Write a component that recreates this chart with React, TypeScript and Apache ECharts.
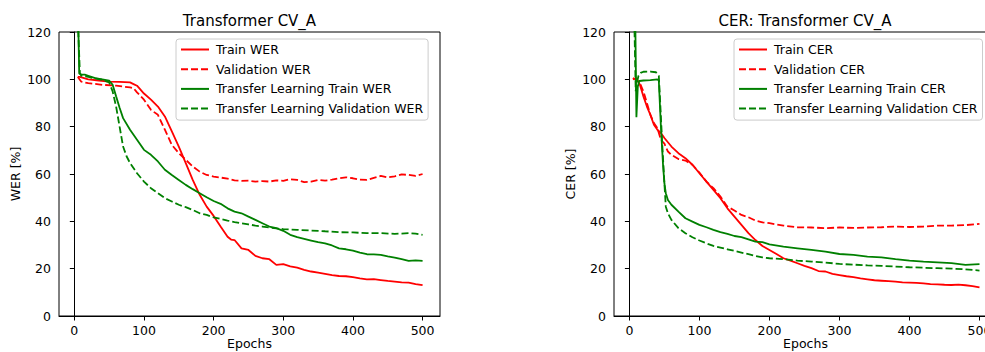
import React, { useEffect, useRef } from "react";
import * as echarts from "echarts";

// [epoch, value %]
const trainWER: [number, number][] = [[5,101],[8,101],[20,100],[35,99.5],[50,99],[65,98.9],[80,98.7],[85,98],[90,97.3],[100,94],[110,91.4],[120,88.5],[130,84.3],[140,78],[150,71.6],[160,64.6],[170,57.5],[180,51.2],[190,46.2],[200,42.3],[210,37.8],[220,33.5],[225,32.3],[230,32.1],[240,28.6],[250,27.9],[260,25.4],[270,24.4],[280,24],[290,21.6],[300,21.9],[310,21],[320,20.4],[330,19.5],[340,18.8],[350,18.3],[360,17.8],[370,17.3],[380,16.9],[390,16.8],[400,16.4],[410,15.9],[420,15.5],[430,15.6],[440,15.2],[450,14.8],[460,14.5],[470,14.2],[480,14.1],[490,13.5],[500,13.0]];
const valWER: [number, number][] = [[5,101],[10,99],[20,98.4],[40,97.7],[60,97.3],[80,96.6],[85,96.3],[90,94.5],[100,91.4],[110,87.1],[120,85],[130,78.7],[140,72.3],[150,68.8],[160,66],[170,63.2],[180,61],[190,59.6],[200,58.9],[210,58.5],[220,58],[230,57.3],[240,57.1],[250,57.2],[260,56.8],[270,57],[280,56.8],[290,57.3],[300,57.1],[310,57.8],[320,57.5],[330,56.6],[340,56.8],[350,57.5],[360,57.2],[370,57.6],[380,58.2],[390,58.6],[400,58.2],[410,57.6],[420,57.5],[430,58.4],[440,59.2],[450,58.6],[460,59],[470,59.8],[480,59.6],[490,59.2],[500,60]];
const tlTrainWER: [number, number][] = [[5,135],[7,102.5],[10,102],[15,102],[20,101.5],[30,100.5],[40,100],[50,99.5],[55,97.7],[60,92.8],[65,88],[70,83.6],[80,78.7],[90,74.5],[100,70.2],[110,68.1],[120,65.3],[130,61.8],[140,59.6],[150,57.5],[160,55.4],[170,53.6],[180,51.9],[190,50.2],[200,48.6],[210,47.4],[220,45.5],[230,44.1],[240,43.4],[250,42],[260,40.6],[270,39.2],[280,37.8],[290,37.1],[300,36],[310,34.3],[320,33.3],[330,32.6],[340,31.9],[350,31.2],[360,30.7],[370,29.8],[380,28.6],[390,28.2],[400,27.6],[410,26.8],[420,26.1],[430,26],[440,25.8],[450,25.2],[460,24.7],[470,24],[480,23.3],[490,23.5],[500,23.3]];
const tlValWER: [number, number][] = [[5,125],[8,102.6],[10,101.5],[20,101],[40,99.8],[50,98.7],[55,94.9],[60,88.5],[65,80],[70,71.6],[75,67.5],[80,64.6],[90,60.3],[100,56.8],[110,54],[120,51.9],[130,49.8],[140,48.4],[150,47],[160,46],[170,44.8],[180,43.4],[190,42.7],[200,41.7],[210,41],[220,40.3],[230,39.7],[240,39.2],[250,38.7],[260,38.2],[270,37.8],[280,37.4],[290,37],[300,36.7],[320,36.4],[340,36.1],[360,35.8],[380,35.4],[400,35.3],[420,35],[440,35],[460,34.7],[480,35],[490,34.8],[500,34.3]];

const trainCER: [number, number][] = [[5,100],[10,100.5],[15,97.7],[20,92.8],[25,88.5],[30,85],[35,80.8],[40,78.7],[45,77.3],[50,75.2],[60,71.6],[70,68.8],[80,66.7],[90,63.9],[100,60.3],[110,56.8],[120,53.3],[130,49.8],[140,45.5],[150,42],[160,38.5],[170,35],[180,32.1],[190,29.6],[200,27.9],[210,26.2],[220,24.4],[230,23.4],[240,22.3],[250,21.2],[260,20.2],[270,19],[280,18.8],[290,17.8],[300,17.3],[310,16.8],[320,16.4],[330,15.9],[340,15.5],[350,15.1],[360,14.9],[370,14.7],[380,14.5],[390,14.2],[400,14.1],[410,14],[420,13.8],[430,13.5],[440,13.4],[450,13.2],[460,13.1],[470,13.3],[480,13],[490,12.6],[500,12.1]];
const valCER: [number, number][] = [[5,100.5],[10,99.8],[15,98.4],[20,94.9],[25,90],[30,85],[35,81.5],[40,79.4],[45,74.4],[50,72.8],[55,69.5],[60,68.1],[70,66.3],[80,65.7],[90,63.9],[100,60.6],[110,56.8],[120,54],[130,50.5],[140,46.2],[150,44.6],[160,42.7],[170,41.7],[180,40.3],[190,39.6],[200,39.2],[220,38.2],[240,37.5],[260,37.4],[280,37.1],[300,37.4],[320,37.2],[340,37.4],[360,37.5],[380,37.8],[400,37.6],[420,37.8],[440,38.2],[460,38.2],[480,38.4],[500,38.9]];
const tlTrainCER: [number, number][] = [[8,135],[10,84],[12,97],[14,99.3],[20,99.5],[30,99.7],[40,100],[42,99.5],[45,80],[48,64],[50,56],[52,51.9],[55,49],[60,47],[70,44.1],[80,41.3],[90,39.9],[100,38.5],[110,37.5],[120,36.4],[130,35.4],[140,34.7],[150,33.8],[160,33.3],[170,32.4],[180,31.4],[190,31.2],[200,30.3],[220,29.3],[240,28.6],[260,27.9],[280,27.2],[300,26.2],[320,25.8],[340,25.1],[360,24.8],[380,24],[400,23.4],[420,23],[440,22.7],[460,22.3],[480,21.6],[500,21.9]];
const tlValCER: [number, number][] = [[7,125],[9,95],[11,99],[13,101.5],[16,102.7],[20,103.2],[30,103.3],[38,103],[42,101.5],[44,90],[47,72],[50,56],[52,46.2],[55,43.4],[60,40.6],[70,37.1],[80,35],[90,33.3],[100,31.9],[110,30.7],[120,29.6],[130,28.9],[140,28.2],[150,27.5],[160,26.8],[170,26.1],[180,25.4],[190,24.8],[200,24.4],[220,24],[240,23.4],[260,23],[280,22.6],[300,22],[320,21.7],[340,21.4],[360,21.2],[380,20.9],[400,20.6],[420,20.4],[440,20.2],[460,20],[480,19.7],[500,19.2]];

const xTicks = [0, 100, 200, 300, 400, 500];
const werNames = ["Train WER", "Validation WER", "Transfer Learning Train WER", "Transfer Learning Validation WER"];
const cerNames = ["Train CER", "Validation CER", "Transfer Learning Train CER", "Transfer Learning Validation CER"];
const titles = ["Transformer CV_A", "CER: Transformer CV_A"];
const yNames = ["WER [%]", "CER [%]"];

const FONT = "DejaVu Sans";
const FS = 12.5;
const RED = "#ff0000";
const GREEN = "#008000";

export default function App() {
  const ref = useRef<HTMLDivElement>(null);
  useEffect(() => {
    if (!ref.current) return;
    const chart = echarts.init(ref.current, null, { renderer: "svg" });
    const grids = [
      { left: 59, top: 32, width: 381, height: 284 },
      { left: 614, top: 32, width: 383, height: 284 },
    ];
    const mkX = (i: number) => ({
      type: "value",
      gridIndex: i,
      min: -22,
      max: 525,
      name: "Epochs",
      nameLocation: "middle",
      nameGap: 21,
      nameMoveOverlap: false,
      nameTextStyle: { fontFamily: FONT, fontSize: FS, color: "#000" },
      axisLine: { show: true, lineStyle: { color: "#000", width: 1 } },
      axisTick: { show: true, length: 4.5, customValues: xTicks, lineStyle: { color: "#000" } },
      axisLabel: { customValues: xTicks, fontFamily: FONT, fontSize: FS, color: "#000", margin: 8 },
      splitLine: { show: false },
    });
    const mkY = (i: number) => ({
      type: "value",
      gridIndex: i,
      min: 0,
      max: 120,
      interval: 20,
      name: yNames[i],
      nameLocation: "middle",
      nameGap: 37,
      nameMoveOverlap: false,
      nameTextStyle: { fontFamily: FONT, fontSize: FS, color: "#000" },
      axisLine: { show: true, lineStyle: { color: "#000", width: 1 } },
      axisTick: { show: true, length: 4.5, lineStyle: { color: "#000" } },
      axisLabel: { fontFamily: FONT, fontSize: FS, color: "#000", margin: 8 },
      splitLine: { show: false },
    });
    const mkSeries = (name: string, data: [number, number][], color: string, dashed: boolean, i: number) => ({
      type: "line",
      name,
      data,
      xAxisIndex: i,
      yAxisIndex: i,
      showSymbol: false,
      symbol: "none",
      clip: true,
      lineStyle: { color, width: 1.8, type: dashed ? [7, 3] : "solid" },
      itemStyle: { color },
    });
    const legendBase = {
      orient: "vertical",
      top: 39,
      itemWidth: 28,
      itemHeight: 12,
      itemGap: 6.7,
      padding: [4, 5, 5, 4],
      borderColor: "#cccccc",
      borderWidth: 1,
      borderRadius: 3,
      backgroundColor: "rgba(255,255,255,0.8)",
      itemStyle: { opacity: 0 },
      textStyle: { fontFamily: FONT, fontSize: FS, color: "#000", padding: [0, 0, 0, 2] },
    };
    chart.setOption({
      animation: false,
      backgroundColor: "#fff",
      grid: grids.map((g) => ({
        ...g,
        show: true,
        borderColor: "#000",
        borderWidth: 1,
        backgroundColor: "transparent",
        containLabel: false,
        outerBoundsMode: "none",
      })),
      xAxis: [mkX(0), mkX(1)],
      yAxis: [mkY(0), mkY(1)],
      legend: [
        { ...legendBase, left: 176, data: werNames },
        { ...legendBase, left: 734, data: cerNames },
      ],
      graphic: [
        { type: "text", x: 249.5, y: 21, style: { text: titles[0], font: `15px '${FONT}'`, fill: "#000", textAlign: "center", textVerticalAlign: "middle" } },
        { type: "text", x: 805, y: 21, style: { text: titles[1], font: `15px '${FONT}'`, fill: "#000", textAlign: "center", textVerticalAlign: "middle" } },
      ],
      series: [
        mkSeries(werNames[0], trainWER, RED, false, 0),
        mkSeries(werNames[1], valWER, RED, true, 0),
        mkSeries(werNames[2], tlTrainWER, GREEN, false, 0),
        mkSeries(werNames[3], tlValWER, GREEN, true, 0),
        mkSeries(cerNames[0], trainCER, RED, false, 1),
        mkSeries(cerNames[1], valCER, RED, true, 1),
        mkSeries(cerNames[2], tlTrainCER, GREEN, false, 1),
        mkSeries(cerNames[3], tlValCER, GREEN, true, 1),
      ],
    });
    return () => chart.dispose();
  }, []);
  return <div ref={ref} style={{ position: "fixed", left: 0, top: 0, width: 985, height: 352 }} />;
}
